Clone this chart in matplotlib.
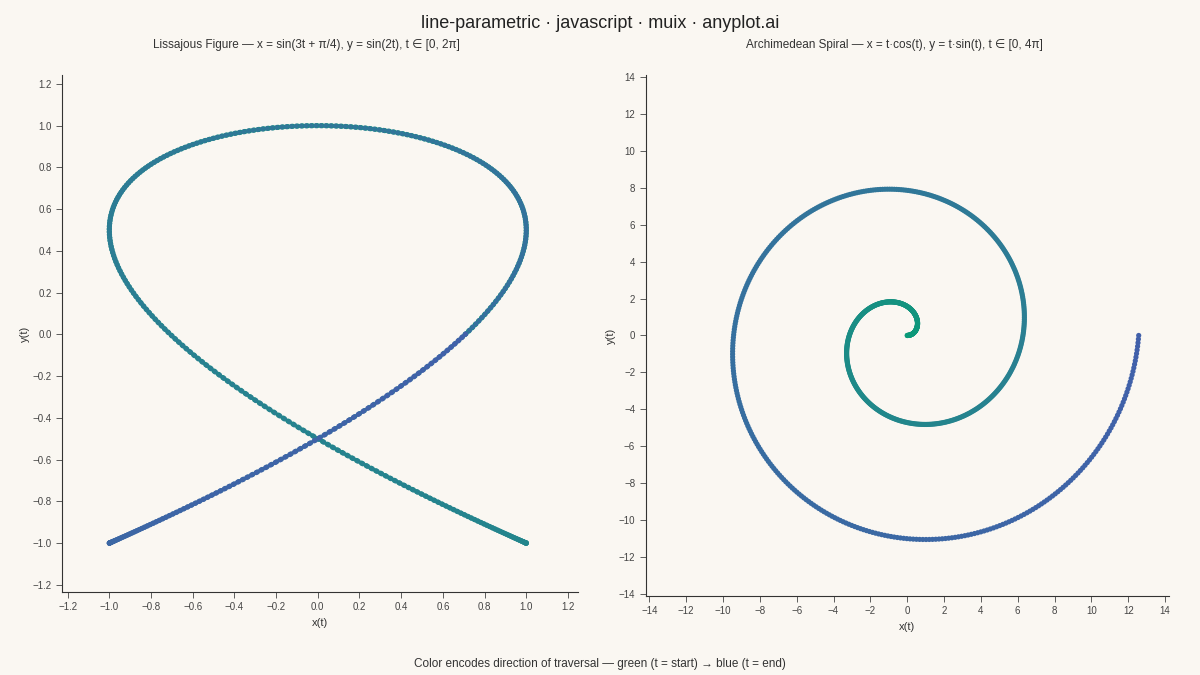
import numpy as np
import matplotlib.pyplot as plt
from matplotlib.colors import LinearSegmentedColormap

plt.rcParams['font.family'] = ['Liberation Sans', 'DejaVu Sans']

BG = '#faf7f2'
GREEN = '#0a9a78'
BLUE = '#4160aa'

# curves as stated in the subplot titles
n_points = 800
t_liss = np.linspace(0, 2 * np.pi, n_points)
liss_x = np.sin(3 * t_liss + np.pi / 4)
liss_y = np.sin(2 * t_liss)

t_spiral = np.linspace(0, 4 * np.pi, n_points)
spiral_x = t_spiral * np.cos(t_spiral)
spiral_y = t_spiral * np.sin(t_spiral)

liss_ticks = np.round(np.arange(-1.2, 1.21, 0.2), 1) + 0.0
spiral_ticks = np.arange(-14, 15, 2)

cmap = LinearSegmentedColormap.from_list('dir', [GREEN, '#2a7f92', BLUE])

fig = plt.figure(figsize=(12, 6.75), dpi=100, facecolor=BG)
fig.text(0.5, 0.965, 'line-parametric · javascript · muix · anyplot.ai', ha='center', va='center',
         fontsize=13, color='#222222')

ax1 = fig.add_axes([0.052, 0.123, 0.430, 0.766], facecolor=BG)
ax2 = fig.add_axes([0.538, 0.117, 0.436, 0.772], facecolor=BG)


def style(ax):
    for s in ['top', 'right']:
        ax.spines[s].set_visible(False)
    for s in ['left', 'bottom']:
        ax.spines[s].set_color('#333333')
        ax.spines[s].set_linewidth(0.8)
    ax.tick_params(labelsize=7, colors='#444444', length=4, width=0.6)
    ax.set_xlabel('x(t)', fontsize=8, color='#333333')
    ax.set_ylabel('y(t)', fontsize=8, color='#333333', labelpad=2)


def draw(ax, x, y):
    c = np.linspace(0, 1, len(x))
    for i in range(len(x) - 1):
        ax.plot(x[i:i + 2], y[i:i + 2], color=cmap(c[i]), lw=2, zorder=2)
    ax.scatter(x, y, c=c, cmap=cmap, s=14, zorder=3, linewidths=0)


def fmt(v, d):
    s = f'{v:.{d}f}'
    if float(s) == 0:
        s = s.lstrip('-')
    return s.replace('-', '−')


draw(ax1, liss_x, liss_y)
ax1.set_xlim(-1.225, 1.25)
ax1.set_ylim(-1.234, 1.243)
ax1.set_xticks(liss_ticks)
ax1.set_yticks(liss_ticks)
ax1.set_xticklabels([fmt(v, 1) for v in liss_ticks])
ax1.set_yticklabels([fmt(v, 1) for v in liss_ticks])
style(ax1)

draw(ax2, spiral_x, spiral_y)
ax2.set_xlim(-14.2, 14.2)
ax2.set_ylim(-14.1, 14.1)
ax2.set_xticks(spiral_ticks)
ax2.set_yticks(spiral_ticks)
ax2.set_xticklabels([fmt(v, 0) for v in spiral_ticks])
ax2.set_yticklabels([fmt(v, 0) for v in spiral_ticks])
style(ax2)

fig.text(0.255, 0.933, 'Lissajous Figure — x = sin(3t + π/4), y = sin(2t), t ∈ [0, 2π]',
         ha='center', va='center', fontsize=8.5, color='#333333')
fig.text(0.745, 0.933, 'Archimedean Spiral — x = t·cos(t), y = t·sin(t), t ∈ [0, 4π]',
         ha='center', va='center', fontsize=8.5, color='#333333')

fig.text(0.5, 0.012, 'Color encodes direction of traversal — green (t = start) → blue (t = end)',
         ha='center', fontsize=8.5, color='#333333')

fig.savefig('out.png', dpi=100, facecolor=BG)
